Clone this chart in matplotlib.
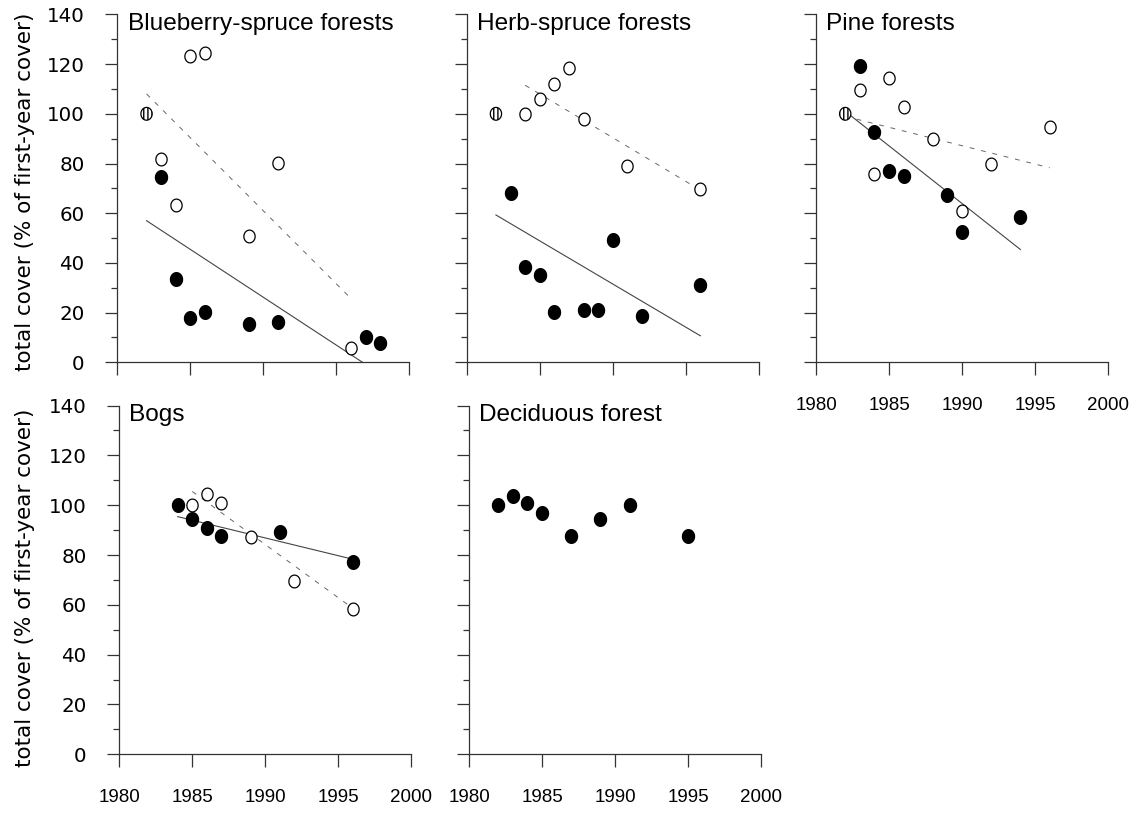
import numpy as np
import matplotlib
matplotlib.use('Agg')
import matplotlib.pyplot as plt
from matplotlib.path import Path
from matplotlib.ticker import MultipleLocator

# slightly tall ellipse marker, like in the scanned figure
_t = np.linspace(0, 2 * np.pi, 60)
ELLIPSE = Path(np.column_stack([0.88 * np.cos(_t), np.sin(_t)]), closed=True)

# Blueberry-spruce forests
bb_first = (1982, 100)
bb_open_x = [1983, 1984, 1985, 1986, 1989, 1991, 1996]
bb_open_y = [82, 63.3, 123.3, 124.3, 50.8, 80.4, 5.6]
bb_fill_x = [1983, 1984, 1985, 1986, 1989, 1991, 1997, 1998]
bb_fill_y = [74.7, 33.4, 17.7, 20.1, 15.4, 16.1, 10.0, 7.9]
bb_fill_fit = ([1982, 1996.8], [57, 0])
bb_open_fit = ([1982, 1996], [108, 25.7])

# Herb-spruce forests
hs_first = (1982, 100)
hs_open_x = [1984, 1985, 1986, 1987, 1988, 1991, 1996]
hs_open_y = [100, 106, 111.8, 118.5, 97.9, 79, 69.8]
hs_fill_x = [1983, 1984, 1985, 1986, 1988, 1989, 1990, 1992, 1996]
hs_fill_y = [68.2, 38.5, 35.1, 20.1, 21.0, 21.0, 49.2, 18.6, 31.1]
hs_fill_fit = ([1982, 1996], [59.3, 10.7])
hs_open_fit = ([1984, 1996], [111.5, 69.3])

# Pine forests
pi_first = (1982, 100)
pi_open_x = [1983, 1984, 1985, 1986, 1988, 1990, 1992, 1996]
pi_open_y = [109.5, 75.7, 114.5, 102.8, 89.7, 60.9, 79.8, 94.8]
pi_fill_x = [1983, 1984, 1985, 1986, 1989, 1990, 1994]
pi_fill_y = [119.3, 92.8, 77.1, 74.9, 67.3, 52.5, 58.3]
pi_fill_fit = ([1982, 1994], [101, 45.4])
pi_open_fit = ([1982, 1996], [99, 78.3])

# Bogs
bog_open_x = [1985, 1986, 1987, 1989, 1992, 1996]
bog_open_y = [100.1, 104.4, 101, 87.1, 69.6, 58.2]
bog_fill_x = [1984, 1985, 1986, 1987, 1991, 1996]
bog_fill_y = [100, 94.4, 91, 87.7, 89.4, 77.1]
bog_fill_fit = ([1984, 1996], [95.4, 78.3])
bog_open_fit = ([1985, 1996], [105.5, 58.6])

# Deciduous forest
dec_x = [1982, 1983, 1984, 1985, 1987, 1989, 1991, 1995]
dec_y = [100, 103.5, 100.9, 96.8, 87.8, 94.4, 100.1, 87.8]

x_ticks = [1980, 1985, 1990, 1995, 2000]
y_ticks = [0, 20, 40, 60, 80, 100, 120, 140]
ylabel = 'total cover (% of first-year cover)'

SANS = 'Liberation Sans'
AXC = '#333333'


def setup_axes(ax, title, xlabels, ylabels):
    ax.set_xlim(1980, 2000)
    ax.set_ylim(0, 140)
    for s in ['top', 'right']:
        ax.spines[s].set_visible(False)
    for s in ['left', 'bottom']:
        ax.spines[s].set_color(AXC)
        ax.spines[s].set_linewidth(0.9)
    ax.set_xticks(x_ticks)
    ax.set_yticks(y_ticks)
    ax.yaxis.set_minor_locator(MultipleLocator(10))
    ax.tick_params(axis='x', direction='out', length=9, width=0.9, color=AXC,
                   pad=16, labelbottom=xlabels)
    ax.tick_params(axis='y', which='major', direction='out', length=8.5, width=0.9,
                   color=AXC, pad=15, labelleft=ylabels, labelsize=14.3)
    ax.tick_params(axis='y', which='minor', direction='out', length=4.5, width=0.9,
                   color=AXC)
    for lab in ax.get_xticklabels():
        lab.set_fontfamily(SANS)
        lab.set_fontsize(13.5)
    for lab in ax.get_yticklabels():
        lab.set_fontfamily('DejaVu Sans')
    ax.text(0.035, 1.003, title, transform=ax.transAxes, ha='left', va='top',
            fontsize=17.6, family=SANS)


def draw_fit(ax, fit, dashed):
    if dashed:
        ax.plot(fit[0], fit[1], color='#666666', lw=0.7, linestyle=(0, (5, 7)), zorder=2)
    else:
        ax.plot(fit[0], fit[1], color='#444444', lw=0.8, zorder=2)


def draw_open(ax, x, y):
    ax.plot(x, y, linestyle='none', marker=ELLIPSE, markersize=9.2,
            markerfacecolor='white', markeredgecolor='black', markeredgewidth=0.9,
            clip_on=False, zorder=3)


def draw_fill(ax, x, y):
    ax.plot(x, y, linestyle='none', marker=ELLIPSE, markersize=9.8,
            markerfacecolor='black', markeredgecolor='black', clip_on=False, zorder=4)


def draw_first(ax, pt):
    ax.scatter([pt[0]], [pt[1]], s=85, marker=ELLIPSE, facecolor='white',
               edgecolor='black', linewidth=0.9, hatch='||||', zorder=5, clip_on=False)


fig = plt.figure(figsize=(11.37, 8.13), dpi=100)

W = 0.2568
H = 0.428
top_b = 0.5543
bot_b = 0.0722

ax1 = fig.add_axes([0.1032, top_b, W, H])
ax2 = fig.add_axes([0.4105, top_b, W, H])
ax3 = fig.add_axes([0.7177, top_b, W, H])
ax4 = fig.add_axes([0.1049, bot_b, W, H + 0.001])
ax5 = fig.add_axes([0.4125, bot_b, W, H + 0.001])

setup_axes(ax1, 'Blueberry-spruce forests', False, True)
draw_fit(ax1, bb_fill_fit, False)
draw_fit(ax1, bb_open_fit, True)
draw_open(ax1, bb_open_x, bb_open_y)
draw_fill(ax1, bb_fill_x, bb_fill_y)
draw_first(ax1, bb_first)

setup_axes(ax2, 'Herb-spruce forests', False, False)
draw_fit(ax2, hs_fill_fit, False)
draw_fit(ax2, hs_open_fit, True)
draw_open(ax2, hs_open_x, hs_open_y)
draw_fill(ax2, hs_fill_x, hs_fill_y)
draw_first(ax2, hs_first)

setup_axes(ax3, 'Pine forests', True, False)
draw_fit(ax3, pi_fill_fit, False)
draw_fit(ax3, pi_open_fit, True)
draw_open(ax3, pi_open_x, pi_open_y)
draw_fill(ax3, pi_fill_x, pi_fill_y)
draw_first(ax3, pi_first)

setup_axes(ax4, 'Bogs', True, True)
draw_fit(ax4, bog_fill_fit, False)
draw_fit(ax4, bog_open_fit, True)
draw_open(ax4, bog_open_x, bog_open_y)
draw_fill(ax4, bog_fill_x, bog_fill_y)

setup_axes(ax5, 'Deciduous forest', True, False)
draw_fill(ax5, dec_x, dec_y)

fig.text(0.0224, 0.7645, ylabel, rotation=90, ha='center', va='center',
         fontsize=15.5, family='DejaVu Sans')
fig.text(0.0224, 0.2768, ylabel, rotation=90, ha='center', va='center',
         fontsize=15.5, family='DejaVu Sans')

plt.savefig('out.png', dpi=100)
